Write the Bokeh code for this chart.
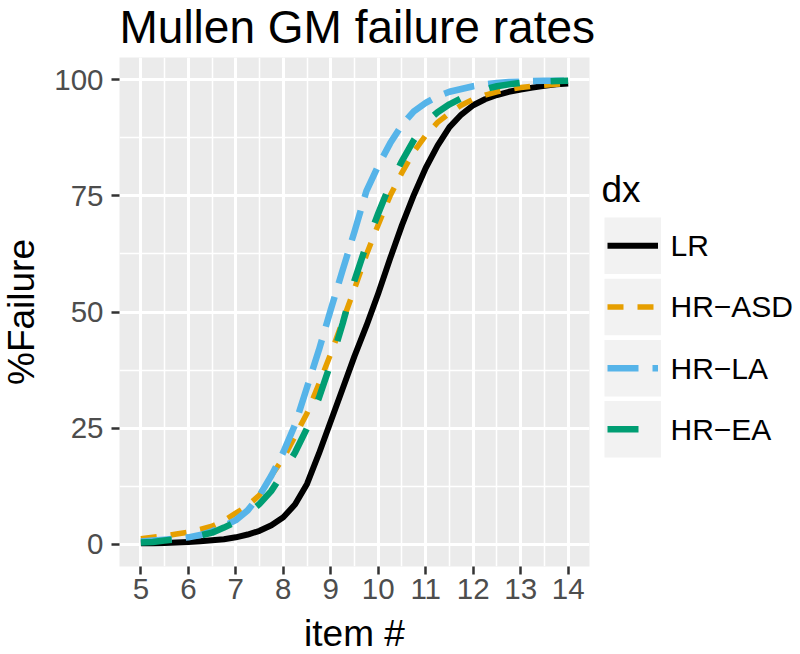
from bokeh.plotting import figure
from bokeh.models import Range1d, SingleIntervalTicker
from bokeh.layouts import row, column
from bokeh.embed import file_html
from bokeh.resources import INLINE
from bokeh.core.properties import value

# ---------------- data ----------------
items = [5.0, 5.25, 5.5, 5.75, 6.0, 6.25, 6.5, 6.75, 7.0, 7.25, 7.5, 7.75,
         8.0, 8.25, 8.5, 8.75, 9.0, 9.25, 9.5, 9.75, 10.0, 10.25, 10.5, 10.75,
         11.0, 11.25, 11.5, 11.75, 12.0, 12.25, 12.5, 12.75, 13.0, 13.25, 13.5,
         13.75, 14.0]

lr = [0.2, 0.25, 0.3, 0.4, 0.5, 0.65, 0.85, 1.1, 1.5, 2.1, 2.9, 4.1,
      5.8, 8.6, 13.0, 19.5, 26.5, 33.5, 40.5, 47.0, 54.0, 61.5, 68.7, 75.2,
      81.0, 85.8, 89.8, 92.5, 94.5, 95.8, 96.7, 97.4, 97.9, 98.3, 98.7,
      99.0, 99.2]

hr_asd = [1.2, 1.5, 1.8, 2.2, 2.6, 3.2, 3.9, 5.1, 6.7, 8.3, 10.6, 14.8,
          18.5, 23.3, 28.2, 34.5, 41.0, 48.0, 55.0, 62.3, 68.8, 75.0, 80.0, 84.5,
          88.0, 90.8, 92.8, 94.5, 95.8, 96.7, 97.4, 97.9, 98.3, 98.6, 98.8,
          99.0, 99.2]

hr_la = [0.6, 0.8, 1.0, 1.2, 1.5, 2.0, 2.8, 3.9, 5.2, 7.3, 10.5, 14.8,
         19.8, 25.8, 33.8, 41.8, 50.5, 59.0, 67.3, 76.0, 81.5, 86.3, 90.3, 93.2,
         95.0, 96.4, 97.4, 98.0, 98.6, 99.0, 99.3, 99.5, 99.6, 99.7, 99.75,
         99.8, 99.8]

hr_ea = [0.4, 0.5, 0.8, 1.1, 1.4, 1.9, 2.5, 3.6, 4.8, 6.5, 8.7, 11.5,
         15.5, 19.8, 25.0, 31.5, 39.0, 47.5, 56.8, 64.5, 71.2, 77.5, 82.5, 87.0,
         90.8, 93.0, 94.7, 96.0, 97.1, 98.0, 98.6, 99.0, 99.3, 99.5, 99.6,
         99.7, 99.8]

series_names = ["LR", "HR\u2212ASD", "HR\u2212LA", "HR\u2212EA"]
series_values = [lr, hr_asd, hr_la, hr_ea]
series_colors = ["#000000", "#E69F00", "#56B4E9", "#009E73"]
series_dashes = ["solid", "16 14", "31 14", "31 31"]
series_widths = [6, 5.5, 6.5, 6.5]

title_text = "Mullen GM failure rates"
x_title = "item #"
y_title = "%Failure"
legend_title = "dx"

FONT = "Liberation Sans"
MID = 0.3465          # baseline-to-middle distance, in em, for this font

# ---------------- layout sizes ----------------
TOTAL_W, TOTAL_H = 800, 654
TOP_H = 57            # strip holding the title
L_W = 45              # strip holding the y title
P_BL, FRAME_W, P_BR = 74, 470, 6
FRAME_H, MB = 509, 46
P_W = P_BL + FRAME_W + P_BR
ROW_H = FRAME_H + MB
BOT_H = TOTAL_H - TOP_H - ROW_H
LEG_W = TOTAL_W - L_W - P_W


def blank(width, height, frame_h=None):
    fh = height if frame_h is None else frame_h
    f = figure(width=width, height=height,
               x_range=Range1d(0, width), y_range=Range1d(fh, 0),
               output_backend="svg", toolbar_location=None, min_border=0,
               min_border_bottom=height - fh,
               x_axis_location=None, y_axis_location=None)
    f.grid.visible = False
    f.outline_line_color = None
    f.background_fill_color = "white"
    f.border_fill_color = "white"
    return f


# ---------------- ranges like ggplot (5 % expansion) ----------------
xmin, xmax = min(items), max(items)
allv = lr + hr_asd + hr_la + hr_ea
ymin, ymax = min(allv), max(allv)
xpad = 0.05 * (xmax - xmin)
ypad = 0.05 * (ymax - ymin)

p = figure(width=P_W, height=ROW_H,
           x_range=Range1d(xmin - xpad, xmax + xpad),
           y_range=Range1d(ymin - ypad, ymax + ypad),
           output_backend="svg", toolbar_location=None,
           min_border_left=P_BL, min_border_right=P_BR,
           min_border_top=0, min_border_bottom=MB)
p.background_fill_color = "#EBEBEB"
p.border_fill_color = "white"
p.outline_line_color = None

p.xaxis.ticker = SingleIntervalTicker(interval=1, num_minor_ticks=2)
p.yaxis.ticker = SingleIntervalTicker(interval=25, num_minor_ticks=2)

for g in (p.xgrid, p.ygrid):
    g.grid_line_color = "white"
    g.grid_line_width = 3
    g.minor_grid_line_color = "white"
    g.minor_grid_line_width = 1.5

p.axis.axis_line_color = None
p.axis.major_tick_line_color = "#333333"
p.axis.major_tick_line_width = 2.5
p.axis.major_tick_out = 8
p.axis.major_tick_in = 0
p.axis.minor_tick_line_color = None
p.axis.major_label_text_font = FONT
p.axis.major_label_text_font_size = "29.5px"
p.axis.major_label_text_color = "#4D4D4D"
p.xaxis.major_label_standoff = 4
p.yaxis.major_label_standoff = 8

for vals, col, dash, w in zip(series_values, series_colors, series_dashes, series_widths):
    p.line(items, vals, line_color=col, line_width=w, line_dash=dash,
           line_join="round")

# ---------------- title strip ----------------
t = blank(TOTAL_W, TOP_H)
t.text(x=[L_W + P_BL], y=[42 - MID * 46], text=[title_text], text_font=value(FONT),
       text_font_size=value("46px"), text_color="black",
       text_align="left", text_baseline="middle")

# ---------------- y title strip ----------------
lft = blank(L_W, ROW_H, FRAME_H)
lft.text(x=[33.5 - MID * 37], y=[FRAME_H / 2], text=[y_title], text_font=value(FONT),
         text_font_size=value("37px"), text_color="black", angle=90, angle_units="deg",
         text_align="center", text_baseline="middle")

# ---------------- x title strip ----------------
b = blank(TOTAL_W, BOT_H)
b.text(x=[L_W + P_BL + FRAME_W / 2], y=[(646 - TOP_H - ROW_H) - MID * 37], text=[x_title],
       text_font=value(FONT), text_font_size=value("37px"), text_color="black",
       text_align="center", text_baseline="middle")

# ---------------- legend panel ----------------
q = blank(LEG_W, ROW_H, FRAME_H)
key_left, key_size, key_step, key_top0 = 9, 56.5, 61.2, 160
n = len(series_names)
tops = [key_top0 + i * key_step for i in range(n)]
centers = [tt + key_size / 2 for tt in tops]
q.quad(left=[key_left] * n, right=[key_left + key_size] * n,
       top=tops, bottom=[tt + key_size for tt in tops],
       fill_color="#F2F2F2", line_color=None)
for c, col, dash, w in zip(centers, series_colors, series_dashes, series_widths):
    q.segment(x0=[key_left + 3], y0=[c], x1=[key_left + key_size - 3], y1=[c],
              line_color=col, line_width=w, line_dash=dash)
q.text(x=[75] * n, y=centers, text=series_names,
       text_font=value(FONT), text_font_size=value("30px"),
       text_color="black", text_baseline="middle", text_align="left")
q.text(x=[6], y=[145 - MID * 37], text=[legend_title],
       text_font=value(FONT), text_font_size=value("37px"),
       text_color="black", text_baseline="middle", text_align="left")

layout = column(t, row(lft, p, q), b)
open("out.html", "w").write(file_html(layout, INLINE))
